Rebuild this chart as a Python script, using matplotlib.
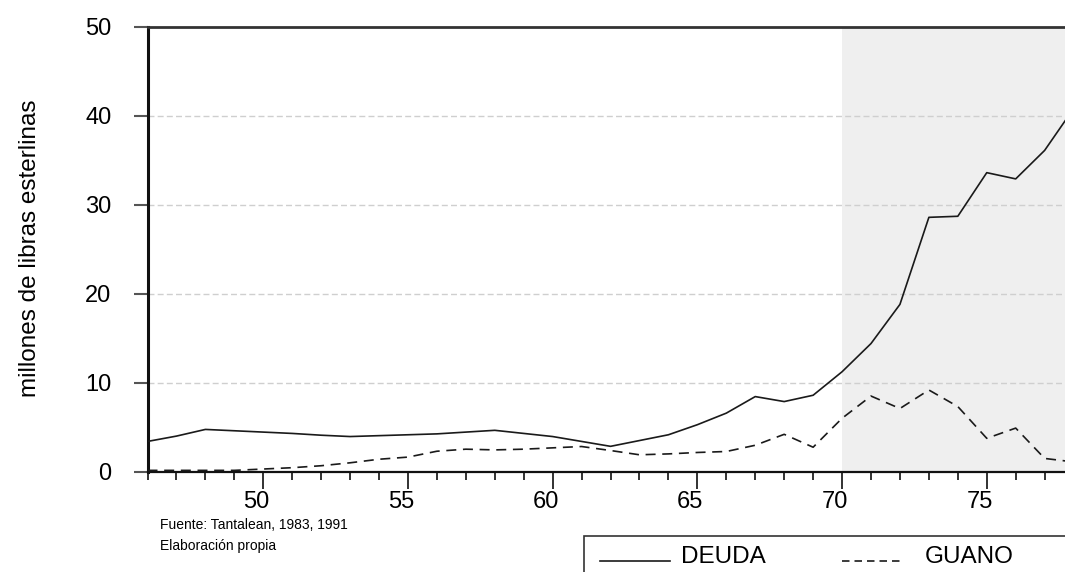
import matplotlib
matplotlib.use("Agg")
import matplotlib.pyplot as plt
from matplotlib.patches import Rectangle
from matplotlib.lines import Line2D
from matplotlib.transforms import ScaledTranslation
from matplotlib.ticker import MultipleLocator, FixedLocator

plt.rcParams['font.family'] = ['Liberation Sans', 'DejaVu Sans']

years = list(range(46, 79))
deuda = [3.4, 4.0, 4.75, 4.6, 4.45, 4.3, 4.1, 3.95, 4.05, 4.15, 4.25, 4.45, 4.65,
         4.3, 3.95, 3.4, 2.85, 3.5, 4.15, 5.28, 6.58, 8.44, 7.88, 8.59, 11.23,
         14.4, 18.8, 28.58, 28.7, 33.6, 32.9, 36.1, 40.8]
guano = [0.15, 0.15, 0.15, 0.15, 0.3, 0.45, 0.67, 1.0, 1.4, 1.64, 2.3, 2.53, 2.45,
         2.53, 2.68, 2.83, 2.38, 1.9, 2.0, 2.16, 2.27, 2.97, 4.2, 2.75, 6.0,
         8.5, 7.1, 9.18, 7.32, 3.75, 4.9, 1.49, 1.1]
major_ticks = [50, 55, 60, 65, 70, 75]
y_ticks = [0, 10, 20, 30, 40, 50]
shade_start = 70
series_labels = ["DEUDA", "GUANO"]
ylabel = "millones de libras esterlinas"
note_lines = ["Fuente: Tantalean, 1983, 1991", "Elaboración propia"]

W, H = 1065, 572
fig = plt.figure(figsize=(W / 100, H / 100), dpi=100)

def fx(px):
    return px / W

def fy(py):
    return 1 - py / H

x0, x1 = 147.5, 147.5 + 32 * 28.94
ytop, ybot = 26.7, 471.7
ax = fig.add_axes([fx(x0), fy(ybot), fx(x1) - fx(x0), fy(ytop) - fy(ybot)])
ax.set_xlim(46, 78)
ax.set_ylim(0, 50)

ax.axvspan(shade_start, 78, color='#efefef', zorder=0, lw=0)
for v in y_ticks[1:-1]:
    ax.axhline(v, color='#cfcfcf', lw=1.0, ls=(0, (4.3, 2.3)), zorder=1)

ax.plot(years, deuda, color='#1a1a1a', lw=1.2, zorder=3)
ax.plot(years, guano, color='#1a1a1a', lw=1.2, ls=(0, (6, 4)), zorder=3)

ax.spines['right'].set_visible(False)
ax.spines['left'].set_linewidth(2.2)
ax.spines['left'].set_color('#111111')
ax.spines['top'].set_linewidth(2.0)
ax.spines['top'].set_color('#333333')
ax.spines['bottom'].set_linewidth(1.6)
ax.spines['bottom'].set_color('#111111')

ax.xaxis.set_major_locator(FixedLocator(major_ticks))
ax.xaxis.set_minor_locator(MultipleLocator(1))
ax.set_xticklabels([str(t) for t in major_ticks])
ax.set_yticks(y_ticks)
ax.set_yticklabels([str(t) for t in y_ticks])
ax.tick_params(axis='x', which='major', direction='out', length=12, width=1.3,
               color='#222222', labelsize=17, pad=2)
ax.tick_params(axis='x', which='minor', direction='out', length=6, width=1.3, color='#222222')
ax.tick_params(axis='y', which='major', direction='out', length=10, width=1.5,
               color='#555555', labelsize=17, pad=16)
for lab in ax.get_xticklabels():
    lab.set_transform(lab.get_transform() + ScaledTranslation(-7 / 100, 0, fig.dpi_scale_trans))

fig.text(fx(30), fy(248), ylabel, rotation=90, ha='center', va='center', fontsize=17.5)

fig.text(fx(160), fy(529), note_lines[0], ha='left', va='baseline', fontsize=10)
fig.text(fx(160), fy(550), note_lines[1], ha='left', va='baseline', fontsize=10)

# legend (manual, framed box running off the bottom/right edges)
fig.patches.append(Rectangle((fx(584), fy(620)), fx(600), fy(536) - fy(620),
                             transform=fig.transFigure, fill=False, ec='#333333', lw=1.2))
fig.lines.append(Line2D([fx(600), fx(670)], [fy(561), fy(561)], transform=fig.transFigure,
                        color='#1a1a1a', lw=1.2))
fig.lines.append(Line2D([fx(842), fx(904)], [fy(561), fy(561)], transform=fig.transFigure,
                        color='#1a1a1a', lw=1.2, ls=(0, (4.5, 3))))
fig.text(fx(681), fy(563), series_labels[0], ha='left', va='baseline', fontsize=17.5)
fig.text(fx(925), fy(563), series_labels[1], ha='left', va='baseline', fontsize=17.5)

fig.savefig('out.png', dpi=100)
